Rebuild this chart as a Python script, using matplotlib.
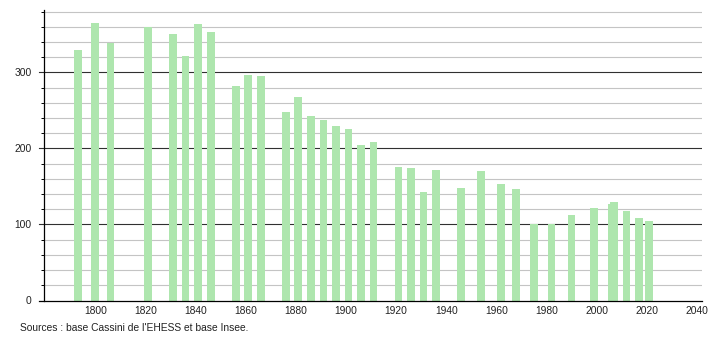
import matplotlib
matplotlib.use("Agg")
import matplotlib.pyplot as plt
from matplotlib.ticker import MultipleLocator

years = [1793, 1800, 1806, 1821, 1831, 1836, 1841, 1846, 1856, 1861, 1866,
         1876, 1881, 1886, 1891, 1896, 1901, 1906, 1911, 1921, 1926, 1931,
         1936, 1946, 1954, 1962, 1968, 1975, 1982, 1990, 1999, 2006, 2007,
         2012, 2017, 2021]
population = [329, 365, 338, 360, 351, 322, 364, 353, 282, 296, 295,
              248, 268, 242, 237, 230, 226, 204, 208, 176, 174, 143,
              171, 148, 170, 153, 146, 101, 101, 112, 121, 127, 129,
              118, 108, 104]
x_ticks = [1800, 1820, 1840, 1860, 1880, 1900, 1920, 1940, 1960, 1980, 2000, 2020, 2040]
source_text = "Sources : base Cassini de l'EHESS et base Insee."

plt.rcParams['font.family'] = ['Liberation Sans', 'DejaVu Sans']

W, H = 710, 340
fig = plt.figure(figsize=(W / 100, H / 100), dpi=100)
left, right, bottom, top = 44, 701.5, 300.5, 10
ax = fig.add_axes([left / W, (H - bottom) / H, (right - left) / W, (bottom - top) / H])

ax.set_xlim(1779.5, 2041.9)
ax.set_ylim(0, 382)

# grid lines
for v in range(20, 381, 20):
    if v % 100 == 0:
        ax.axhline(v, color='#303030', lw=0.8, zorder=1)
        ax.plot([-5 / (right - left), 0], [v, v], transform=ax.get_yaxis_transform(),
                color='#303030', lw=0.8, clip_on=False, zorder=1)
    else:
        ax.axhline(v, color='#c4c4c4', lw=0.8, zorder=1)

ax.bar(years, population, width=3.1, color='#aee6ae', edgecolor='none', zorder=2)

for s in ['top', 'right']:
    ax.spines[s].set_visible(False)
ax.spines['left'].set_color('black')
ax.spines['left'].set_linewidth(0.9)
ax.spines['bottom'].set_visible(False)
ax.plot([-5 / (right - left), 1], [0, 0], transform=ax.get_yaxis_transform(),
        color='black', lw=0.9, clip_on=False, zorder=3)

ax.yaxis.set_major_locator(MultipleLocator(100))
ax.yaxis.set_minor_locator(MultipleLocator(20))
ax.tick_params(axis='y', which='major', length=0, pad=9, labelsize=7.4, colors='#222222')
ax.tick_params(axis='y', which='minor', length=2.0, width=0.7, color='black')
ax.set_yticks([0, 100, 200, 300])

ax.set_xticks(x_ticks)
ax.tick_params(axis='x', length=0, pad=4, labelsize=7.4, colors='#222222')

fig.text(20 / W, (H - 328) / H, source_text, fontsize=7.4, color='#222222',
         ha='left', va='center')

fig.savefig('out.png', dpi=100)
